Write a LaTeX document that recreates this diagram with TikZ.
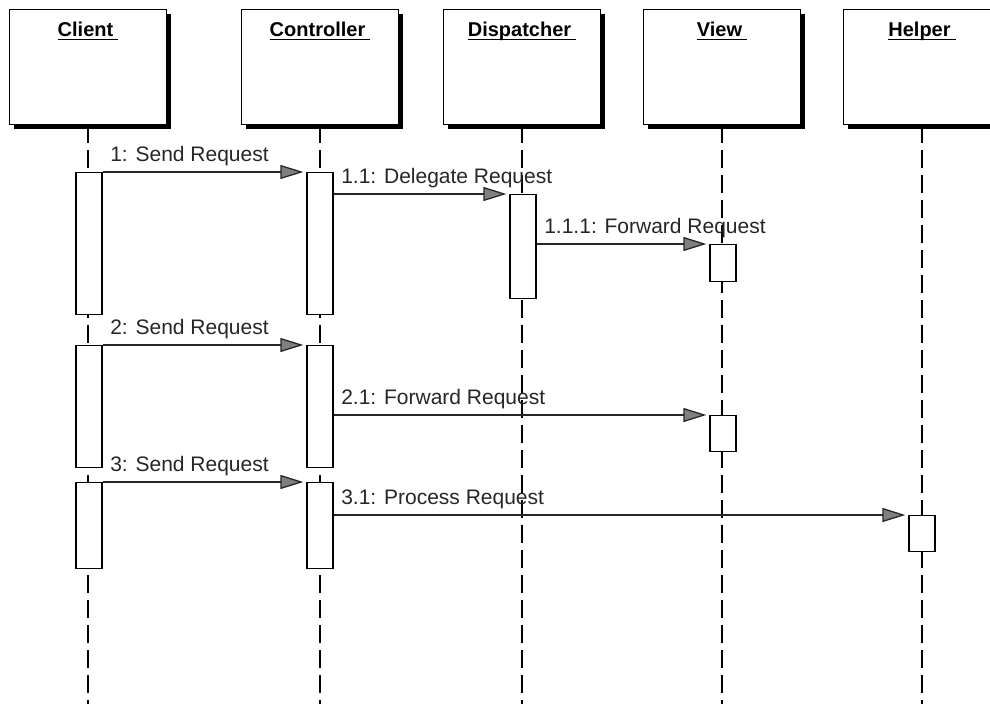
\documentclass[tikz,border=0pt]{standalone}
\usepackage{amsmath}
\usepackage{fontspec}
\setmainfont{Liberation Sans}
\usetikzlibrary{arrows.meta,shadows,positioning}

\newcommand{\objlabel}[1]{\underline{\smash[b]{#1}\hspace{5pt}}}

\begin{document}
\begin{tikzpicture}[x=1pt,y=-1pt,
  obj/.style={draw, line width=1.5pt, fill=white, minimum width=157pt, minimum height=115pt,
    drop shadow={shadow xshift=4.5pt, shadow yshift=-4.5pt, fill=black, opacity=1}},
  objname/.style={font=\fontsize{20}{24}\selectfont\bfseries, inner sep=0pt},
  bar/.style={draw, line width=1.3pt, fill=white, minimum width=26pt, inner sep=0pt, anchor=north},
  life/.style={dash pattern=on 18pt off 7pt, line width=1.5pt},
  msg/.style={line width=1.3pt, draw=black!85, -{Triangle[length=23pt,width=14pt,fill=gray]}, shorten >=3pt},
  msglabel/.style={font=\fontsize{21}{25}\selectfont, text=black!85, inner sep=0pt, anchor=base west,
    xshift=7pt, yshift=11pt}]
  \useasboundingbox (0,0) rectangle (990,704);
  \coordinate (bottom) at (0,704);

  \node[obj] (client) at (88,67) {};
  \node[obj] (controller) at (320,67) {};
  \node[obj] (dispatcher) at (522,67) {};
  \node[obj] (view) at (722,67) {};
  \node[obj] (helper) at (922,67) {};
  \node[objname, below=13pt of client.north] {\objlabel{Client}};
  \node[objname, below=13pt of controller.north] {\objlabel{Controller}};
  \node[objname, below=13pt of dispatcher.north] {\objlabel{Dispatcher}};
  \node[objname, below=13pt of view.north] {\objlabel{View}};
  \node[objname, below=13pt of helper.north] {\objlabel{Helper}};

  \foreach \o in {client,controller,dispatcher,view,helper}
    \draw[life] (\o.south) -- (\o.south |- bottom);

  \node[bar, minimum height=142pt] (cl1) at (89,172) {};
  \node[bar, minimum height=122pt] (cl2) at (89,345) {};
  \node[bar, minimum height=86pt]  (cl3) at (89,482) {};
  \node[bar, minimum height=142pt] (ct1) at (320,172) {};
  \node[bar, minimum height=122pt] (ct2) at (320,345) {};
  \node[bar, minimum height=86pt]  (ct3) at (320,482) {};
  \node[bar, minimum height=104pt] (dp1) at (523,194) {};
  \node[bar, minimum height=37pt]  (vw1) at (723,244) {};
  \node[bar, minimum height=36pt]  (vw2) at (723,415) {};
  \node[bar, minimum height=36pt]  (hp1) at (922,515) {};

  \draw[msg] (cl1.north east) node[msglabel] {1: Send Request} -- (ct1.north west);
  \draw[msg] (dp1.north west -| ct1.east) node[msglabel] {1.1: Delegate Request} -- (dp1.north west);
  \draw[msg] (vw1.north west -| dp1.east) node[msglabel] {1.1.1: Forward Request} -- (vw1.north west);
  \draw[msg] (cl2.north east) node[msglabel] {2: Send Request} -- (ct2.north west);
  \draw[msg] (vw2.north west -| ct2.east) node[msglabel] {2.1: Forward Request} -- (vw2.north west);
  \draw[msg] (cl3.north east) node[msglabel] {3: Send Request} -- (ct3.north west);
  \draw[msg] (hp1.north west -| ct3.east) node[msglabel] {3.1: Process Request} -- (hp1.north west);
\end{tikzpicture}
\end{document}
